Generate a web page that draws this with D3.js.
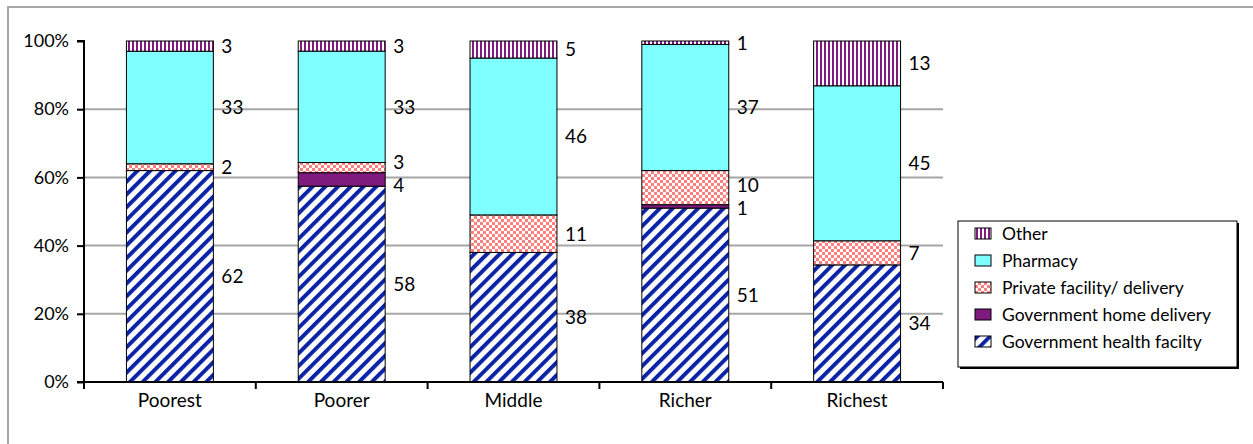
<!DOCTYPE html>
<html><head><meta charset="utf-8">
<script src="https://cdn.jsdelivr.net/npm/d3@7"></script>
<style>
html,body{margin:0;padding:0;background:#fff;}
text{font-family:"Lato","Open Sans",sans-serif;fill:#000;}
</style></head>
<body>
<svg id="c" width="1253" height="444"></svg>
<script>
const categories = ["Poorest","Poorer","Middle","Richer","Richest"];
const seriesNames = ["Government health facilty","Government home delivery","Private facility/ delivery","Pharmacy","Other"];
const govHealthFacility = [62,58,38,51,34];
const govHomeDelivery   = [0,4,0,1,0];
const privateFacility   = [2,3,11,10,7];
const pharmacy          = [33,33,46,37,45];
const other             = [3,3,5,1,13];
const yTickLabels = ["0%","20%","40%","60%","80%","100%"];

const seriesValues = [govHealthFacility,govHomeDelivery,privateFacility,pharmacy,other];
const rows = categories.map((c,i)=>{
  const r={cat:c};
  seriesNames.forEach((s,j)=>r[s]=seriesValues[j][i]);
  return r;
});

const svg = d3.select("#c");
const defs = svg.append("defs");
// diagonal stripes
const P = 9;
const p1 = defs.append("pattern").attr("id","pGHF").attr("patternUnits","userSpaceOnUse")
  .attr("width",P).attr("height",P).attr("patternTransform","rotate(45)");
p1.append("rect").attr("width",P).attr("height",P).attr("fill","#fff");
p1.append("rect").attr("width",3.9).attr("height",P).attr("fill","#0A22A6");
// checker
const p2 = defs.append("pattern").attr("id","pPriv").attr("patternUnits","userSpaceOnUse")
  .attr("width",6).attr("height",6);
p2.append("rect").attr("width",6).attr("height",6).attr("fill","#fff");
p2.append("rect").attr("width",3).attr("height",3).attr("fill","#FF7F7F");
p2.append("rect").attr("x",3).attr("y",3).attr("width",3).attr("height",3).attr("fill","#FF7F7F");
// vertical stripes
const p3 = defs.append("pattern").attr("id","pOther").attr("patternUnits","userSpaceOnUse")
  .attr("width",4).attr("height",4);
p3.append("rect").attr("width",4).attr("height",4).attr("fill","#fff");
p3.append("rect").attr("width",2).attr("height",4).attr("fill","#7F1A7F");

const fills = {
  "Government health facilty":"url(#pGHF)",
  "Government home delivery":"#7F1A7F",
  "Private facility/ delivery":"url(#pPriv)",
  "Pharmacy":"#7FFFFF",
  "Other":"url(#pOther)"
};

// outer border
svg.append("rect").attr("x",8).attr("y",7).attr("width",1260).attr("height",460)
  .attr("fill","none").attr("stroke","#A6A6A6").attr("stroke-width",2);

const x = d3.scaleBand().domain(categories).range([84,943]);
const y = d3.scaleLinear().domain([0,100]).range([382,41]);
const bw = x.step()*0.506;

// gridlines
svg.append("g").selectAll("line").data([20,40,60,80]).join("line")
  .attr("x1",84).attr("x2",943).attr("y1",d=>y(d)).attr("y2",d=>y(d))
  .attr("stroke","#A6A6A6").attr("stroke-width",2);

const stack = d3.stack().keys(seriesNames).offset(d3.stackOffsetExpand);
const stacked = stack(rows);

const g = svg.append("g");
stacked.forEach(layer=>{
  g.append("g").selectAll("rect").data(layer.filter(d=>d.data[layer.key]>0)).join("rect")
    .attr("x",d=>x(d.data.cat)+x.bandwidth()/2-bw/2)
    .attr("width",bw)
    .attr("y",d=>y(d[1]*100))
    .attr("height",d=>y(d[0]*100)-y(d[1]*100))
    .attr("fill",fills[layer.key])
    .attr("stroke","#000").attr("stroke-width",1);
});

// labels with simple collision nudging per bar
const labels = [];
categories.forEach((c,ci)=>{
  const list = [];
  stacked.forEach(layer=>{
    const d = layer[ci];
    const v = d.data[layer.key];
    if (v>0) list.push({cat:c, v, y:y((d[0]+d[1])/2*100)});
  });
  const minGap = 23;
  for (let iter=0; iter<8; iter++){
    for (let i=1;i<list.length;i++){
      const gap = list[i-1].y - list[i].y;
      if (gap < minGap){
        const sh = (minGap-gap)/2;
        list[i-1].y += sh; list[i].y -= sh;
      }
    }
  }
  list.forEach(l=>labels.push(l));
});
g.append("g").selectAll("text").data(labels).join("text")
  .attr("x",d=>x(d.cat)+x.bandwidth()/2+bw/2+8)
  .attr("y",d=>d.y)
  .attr("dy","0.36em")
  .attr("font-size",19)
  .text(d=>d.v);

// y axis
const yAxis = d3.axisLeft(y).tickValues([0,20,40,60,80,100]).tickSize(7).tickPadding(8)
  .tickFormat((d,i)=>yTickLabels[i]);
const ya = svg.append("g").attr("transform","translate(84,0)").call(yAxis);
ya.selectAll("path,line").attr("stroke","#000").attr("stroke-width",2);
ya.select(".domain").attr("d","M-7,"+y(100)+"H0V"+y(0)+"H-7");
ya.selectAll("text").attr("font-size",18).attr("font-family","Lato");

// x axis
const xa = svg.append("g").attr("transform","translate(0,382)");
xa.append("line").attr("x1",84).attr("x2",943).attr("y1",0).attr("y2",0).attr("stroke","#000").attr("stroke-width",2);
const bounds = categories.map(c=>x(c)).concat([x(categories[categories.length-1])+x.step()]);
xa.selectAll("line.t").data(bounds).join("line").attr("class","t")
  .attr("x1",d=>d).attr("x2",d=>d).attr("y1",0).attr("y2",7).attr("stroke","#000").attr("stroke-width",2);
xa.selectAll("text").data(categories).join("text")
  .attr("x",d=>x(d)+x.bandwidth()/2).attr("y",18).attr("dy","0.36em")
  .attr("text-anchor","middle").attr("font-size",19).text(d=>d);

// legend
const lg = svg.append("g");
lg.append("rect").attr("x",960).attr("y",223).attr("width",279).attr("height",146).attr("fill","#000");
lg.append("rect").attr("x",958).attr("y",221).attr("width",279).attr("height",146)
  .attr("fill","#fff").attr("stroke","#000").attr("stroke-width",1);
const legendOrder = seriesNames.slice().reverse();
legendOrder.forEach((s,i)=>{
  const cy = 233.5 + i*27;
  lg.append("rect").attr("x",975).attr("y",cy-5.5).attr("width",16).attr("height",11)
    .attr("fill",fills[s]).attr("stroke","#000").attr("stroke-width",1);
  lg.append("text").attr("x",1002).attr("y",cy).attr("dy","0.36em").attr("font-size",17.5).text(s);
});
</script>
</body></html>
